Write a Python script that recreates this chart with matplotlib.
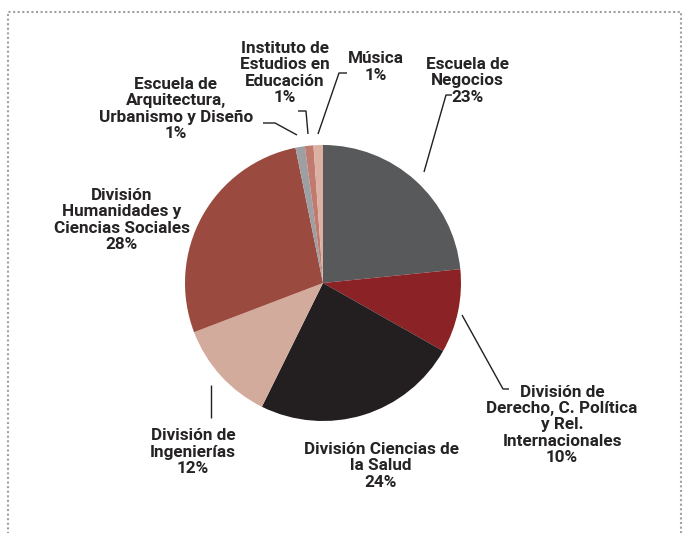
import matplotlib
matplotlib.use("Agg")
import matplotlib.pyplot as plt
from matplotlib.lines import Line2D

categories = [
    "Escuela de\nNegocios",
    "División de\nDerecho, C. Política\ny Rel.\nInternacionales",
    "División Ciencias de\nla Salud",
    "División de\nIngenierías",
    "División\nHumanidades y\nCiencias Sociales",
    "Escuela de\nArquitectura,\nUrbanismo y Diseño",
    "Instituto de\nEstudios en\nEducación",
    "Música",
]
values = [23.4, 9.8, 24.1, 11.9, 27.6, 1.1, 1.0, 1.1]
colors = ["#58595b", "#8b2226", "#231f20", "#d3ab9c", "#9a4a3e",
          "#9d9fa2", "#c07b6e", "#dcb1a3"]

W, H = 684, 533
fig = plt.figure(figsize=(W / 100, H / 100), dpi=100)
ax = fig.add_axes([0, 0, 1, 1])

def Y(y):
    return H - y

ax.pie(values, colors=colors, startangle=90, counterclock=False,
       center=(323, Y(283)), radius=138, frame=True,
       wedgeprops=dict(linewidth=0))
ax.set_xlim(0, W)
ax.set_ylim(0, H)
ax.set_aspect("equal")
ax.axis("off")

font = dict(family=["Roboto", "DejaVu Sans"], weight="bold",
            fontsize=12.3, color="#262324", ha="center", va="center",
            linespacing=1.1)

total = sum(values)
def lab(i):
    return f"{categories[i]}\n{round(values[i] / total * 100):.0f}%"

# label positions (centers, pixel coords)
pos = [
    (467, 81),
    (562, 425),
    (381, 466),
    (193, 452),
    (122, 220),
    (176, 109),
    (285, 73),
    (376, 67),
]
for i, (x, y) in enumerate(pos):
    ax.text(x, Y(y), lab(i), **font)

# leader lines
leaders = [
    [(452, 95), (446, 95), (424, 172)],
    [(509, 389), (503, 389), (462, 315)],
    [(211, 418), (211, 385)],
    [(263, 123), (275, 123), (297, 135)],
    [(298, 111), (306, 111), (308, 134)],
    [(347, 73), (339, 73), (318, 134)],
]
for pts in leaders:
    xs = [p[0] for p in pts]
    ys = [Y(p[1]) for p in pts]
    ax.plot(xs, ys, color="#231f20", lw=1.0, solid_capstyle="butt")

# dotted frame
def fx(x):
    return x / W
def fy(y):
    return 1 - y / H
frame_pts = [(8, 540), (8, 12), (681, 12), (681, 540)]
fig.add_artist(Line2D([fx(p[0]) for p in frame_pts], [fy(p[1]) for p in frame_pts],
                      transform=fig.transFigure, color="#a0a0a0", lw=1.5,
                      linestyle=(0, (1, 1.2)), dash_capstyle="butt"))

fig.savefig("out.png", dpi=100)
